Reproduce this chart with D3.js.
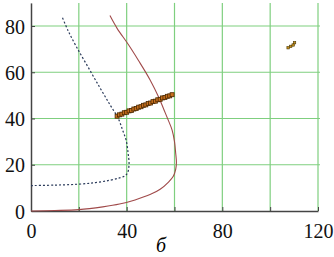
<!DOCTYPE html>
<html>
  <head>
    <meta charset="utf-8">
    <title>б chart</title>
    <script src="https://d3js.org/d3.v7.min.js"></script>
    <style>
      body { margin: 0; background: #fff; }
      svg { display: block; }
    </style>
  </head>
  <body>
    <div id="chart"></div>
    <script>
    // values
    var xTicks = [0, 20, 40, 60, 80, 100, 120];
    var yTicks = [0, 20, 40, 60, 80];
    var xLabel = "б";

    // solid red curve
    var redCurve = [[0,0],[10,0.2],[20,0.6],[30,1.8],[37,3],[43.5,4.8],[50,7.2],[54,9.4],[57.5,12.5],
      [59.5,15],[60.5,18],[60.8,21],[60.5,25],[60,30],[59,35],[57.3,39.5],[55.5,44],[53.5,49],
      [49.8,56.7],[45,65],[40.7,72],[36,79],[33,84.5]];

    // dotted dark curve
    var dotCurve = [[0,11],[10,11.2],[19.8,11.6],[27,12.3],[33,13.3],[37,14.3],[39.3,15.2],[40.4,16.5],
      [40.9,19],[41,21],[40.6,25],[39.8,30.5],[38.3,35],[36.5,40],[33,46],[29,53],[24,62],
      [19,71],[15.5,78],[13,84]];

    // square markers
    var markers = [[36,41],[37,41.6],[38,41.9],[39,42.5],[40,42.7],[41,43.3],[42,43.5],[43,44.1],
      [44,44.3],[45,44.9],[46,45.1],[47,45.7],[48,45.9],[49,46.5],[50,46.7],[51,47.3],[52,47.5],
      [53,48.1],[54,48.3],[55,48.9],[56,49.1],[57,49.6],[58,49.8],[59,50.3]];
    var cluster = [[107.5,70.6],[108.6,71.2],[109.6,71.8],[110.2,72.8]];

    var width = 334, height = 257;
    var serif = "'Liberation Serif', 'Times New Roman', serif";
    var x = d3.scaleLinear().domain([0, 120]).range([31, 318]);
    var y = d3.scaleLinear().domain([0, 90]).range([211, 2.9]);

    var svg = d3.select("#chart").append("svg")
      .attr("width", width)
      .attr("height", height);

    // grid
    svg.append("g").selectAll("line")
      .data(xTicks.filter(d => d > 0))
      .enter().append("line")
      .attr("x1", d => x(d)).attr("x2", d => x(d))
      .attr("y1", y(0)).attr("y2", y(90))
      .attr("stroke", "#7fcf7f").attr("stroke-width", 1.2);
    svg.append("g").selectAll("line")
      .data(yTicks.filter(d => d > 0))
      .enter().append("line")
      .attr("x1", x(0)).attr("x2", x(120) + 2)
      .attr("y1", d => y(d)).attr("y2", d => y(d))
      .attr("stroke", "#7fcf7f").attr("stroke-width", 1.2);

    // axes
    var xAxis = d3.axisBottom(x).tickValues(xTicks).tickSizeInner(-4).tickSizeOuter(0)
      .tickFormat(d => d % 40 === 0 ? d : "");
    var gx = svg.append("g").attr("transform", "translate(0," + y(0) + ")").call(xAxis);
    gx.selectAll("text").attr("y", 27).attr("dy", 0);

    var yAxis = d3.axisLeft(y).tickValues(yTicks).tickSizeInner(-4).tickSizeOuter(0);
    var gy = svg.append("g").attr("transform", "translate(" + x(0) + ",0)").call(yAxis);
    gy.selectAll("text").attr("x", -6).attr("dy", "0.35em");

    svg.selectAll(".tick text")
      .attr("font-family", null)
      .style("font-family", serif)
      .style("font-size", "20px")
      .style("fill", "#111");
    gx.attr("font-family", null).attr("font-size", null);
    gy.attr("font-family", null).attr("font-size", null);

    svg.selectAll(".domain").attr("stroke", "#444").attr("stroke-width", 1.5);
    svg.selectAll(".tick line").attr("stroke", "#444");

    svg.append("text")
      .attr("x", 161).attr("y", 252)
      .attr("text-anchor", "middle")
      .style("font-family", serif)
      .style("font-style", "italic")
      .style("font-size", "20px")
      .text(xLabel);

    var line = d3.line()
      .x(d => x(d[0]))
      .y(d => y(d[1]))
      .curve(d3.curveCatmullRom);

    svg.append("path").datum(redCurve)
      .attr("d", line)
      .attr("fill", "none")
      .attr("stroke", "#a04a4a")
      .attr("stroke-width", 1.1);

    svg.append("path").datum(dotCurve)
      .attr("d", line)
      .attr("fill", "none")
      .attr("stroke", "#2a3a5a")
      .attr("stroke-width", 1.2)
      .attr("stroke-dasharray", "2,2");

    // markers
    svg.append("g").selectAll("rect")
      .data(markers)
      .enter().append("rect")
      .attr("x", d => x(d[0]) - 2)
      .attr("y", d => y(d[1]) - 2)
      .attr("width", 4).attr("height", 4)
      .attr("fill", "#c8701e")
      .attr("stroke", "#4a2800")
      .attr("stroke-width", 0.8);

    svg.append("g").selectAll("rect")
      .data(cluster)
      .enter().append("rect")
      .attr("x", d => x(d[0]) - 1.2)
      .attr("y", d => y(d[1]) - 1.2)
      .attr("width", 2.4).attr("height", 2.4)
      .attr("fill", "#c8901e")
      .attr("stroke", "#4a3800")
      .attr("stroke-width", 0.6);
    </script>
  </body>
</html>
